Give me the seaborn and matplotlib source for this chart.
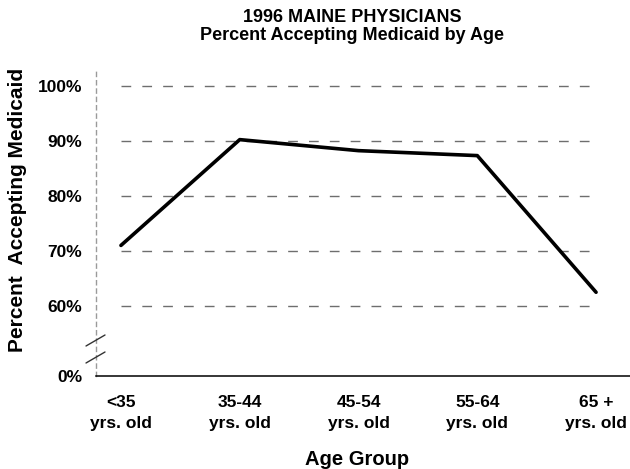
import numpy as np
import pandas as pd
import matplotlib
matplotlib.use("Agg")
import matplotlib.pyplot as plt
from matplotlib.lines import Line2D
import seaborn as sns

# ---- data ----
age_groups = ["<35\nyrs. old", "35-44\nyrs. old", "45-54\nyrs. old", "55-64\nyrs. old", "65 +\nyrs. old"]
pct_accepting = [71.0, 90.2, 88.2, 87.3, 62.5]
y_ticks = [0, 60, 70, 80, 90, 100]
y_tick_labels = ["0%", "60%", "70%", "80%", "90%", "100%"]
grid_levels = [60, 70, 80, 90, 100]
title_lines = ["1996 MAINE PHYSICIANS", "Percent Accepting Medicaid by Age"]
x_label = "Age Group"
y_label = "Percent  Accepting Medicaid"

sns.set_theme(style="white")
plt.rcParams['font.family'] = ['Liberation Sans', 'DejaVu Sans']
plt.rcParams['font.weight'] = 'bold'

W, H = 630, 469
fig = plt.figure(figsize=(W / 100, H / 100), dpi=100)
ax = fig.add_axes([96 / W, 1 - 376 / H, (W - 96) / W, (376 - 68) / H])

# broken y scale: 0..60 compressed
BREAK_U = 12.7


def fwd(y):
    y = np.asarray(y, dtype=float)
    return np.where(y < 60, y * BREAK_U / 60.0, y - 60 + BREAK_U)


def inv(u):
    u = np.asarray(u, dtype=float)
    return np.where(u < BREAK_U, u * 60.0 / BREAK_U, u + 60 - BREAK_U)


df = pd.DataFrame({"age": age_groups, "pct": pct_accepting})
sns.lineplot(data=df, x="age", y="pct", color="black", linewidth=2.6,
             sort=False, ax=ax, zorder=3)

ax.set_yscale('function', functions=(fwd, inv))
ax.set_ylim(0, 55.9 + 60 - BREAK_U)
ax.set_xlim(-25 / 119, 4 + 34 / 119)

ax.hlines(grid_levels, age_groups[0], age_groups[-1], colors="#6e6e6e",
          linestyles=(0, (7, 8)), linewidth=1.0, zorder=1)

ax.set_yticks(y_ticks)
ax.set_yticklabels(y_tick_labels, fontsize=12.5, fontweight="bold", color="black")
ax.set_xticks(range(len(age_groups)))
ax.set_xticklabels(age_groups, fontsize=12.5, fontweight="bold", color="black",
                   linespacing=1.45)
ax.tick_params(axis="y", length=0, pad=10)
ax.tick_params(axis="x", direction="inout", length=12, width=1.0, color="black", pad=8)

for s in ["top", "right"]:
    ax.spines[s].set_visible(False)
ax.spines["bottom"].set_color("black")
ax.spines["bottom"].set_linewidth(1.1)
ax.spines["left"].set_color("#9a9a9a")
ax.spines["left"].set_linewidth(1.0)
ax.spines["left"].set_linestyle((0, (3, 3)))

ax.set_xlabel(x_label, fontsize=14.5, fontweight="bold", color="black")
ax.set_ylabel(y_label, fontsize=15, fontweight="bold", color="black")
ax.xaxis.label.set_va("center")
ax.xaxis.set_label_coords((357 - 96) / 534, (376 - 459) / 308)
ax.yaxis.label.set_va("center")
ax.yaxis.set_label_coords((17 - 96) / 534, (376 - 210) / 308)

# axis break marks
for (x0, y0, x1, y1) in [(86, 346, 105, 335), (86, 363, 105, 352)]:
    fig.add_artist(Line2D([x0 / W, x1 / W], [1 - y0 / H, 1 - y1 / H],
                          transform=fig.transFigure, color="#333333", linewidth=1.0))

fig.text(352 / W, 1 - 17 / H, title_lines[0], ha="center", va="center",
         fontsize=13, fontweight="bold", color="black")
fig.text(352 / W, 1 - 35 / H, title_lines[1], ha="center", va="center",
         fontsize=13, fontweight="bold", color="black")

fig.savefig("out.png", dpi=100, facecolor="white")
